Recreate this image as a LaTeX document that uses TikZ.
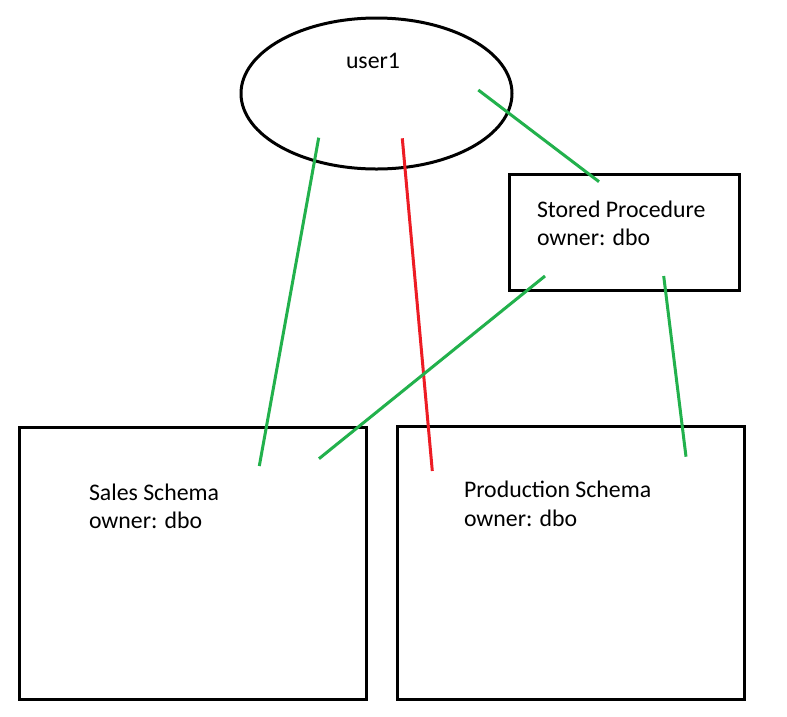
\documentclass[tikz,border=0pt]{standalone}
\usepackage{fontspec}
\setmainfont{Carlito}
\usetikzlibrary{shapes.geometric}
\definecolor{pgreen}{HTML}{22B14C}
\definecolor{pred}{HTML}{ED1C24}
\begin{document}
\begin{tikzpicture}[x=1pt,y=-1pt,
  shapeline/.style={draw=black,line width=3pt},
  boxshape/.style={shapeline,rectangle,inner sep=0pt,outer sep=0pt},
  lbl/.style={anchor=base west,inner sep=0pt,outer sep=0pt,font=\fontsize{23.8}{29}\selectfont},
  gline/.style={draw=pgreen,line width=3pt},
  rline/.style={draw=pred,line width=3pt}]
\useasboundingbox[fill=white] (0,0) rectangle (787,716);
% shapes
\node[shapeline,ellipse,inner sep=0pt,outer sep=0pt,minimum width=271pt,minimum height=151pt] (user) at (376.5,93.5) {};
\node[boxshape,minimum width=230pt,minimum height=116pt] (sp) at (624,232) {};
\node[boxshape,minimum width=346.5pt,minimum height=272.5pt] (sales) at (192.75,563.25) {};
\node[boxshape,minimum width=347pt,minimum height=273pt] (prod) at (571.2,562.5) {};
% texts
\node[lbl] (userT) at (346,68) {user1};
\node[lbl] (spT1) at (537,217) {Stored Procedure};
\node[lbl] (spT2) at (537,245) {owner: dbo};
\node[lbl] (salesT1) at (89,500) {Sales Schema};
\node[lbl] (salesT2) at (89,528) {owner: dbo};
\node[lbl] (prodT1) at (464,497) {Production Schema};
\node[lbl] (prodT2) at (464,526) {owner: dbo};
% connector end points
\coordinate (g1a) at (318.7,137.7);
\coordinate (g1b) at (259.3,466);
\coordinate (ra) at (402.3,138.3);
\coordinate (rb) at (432.3,471);
\coordinate (g2a) at (478.3,90);
\coordinate (g2b) at (599,181.7);
\coordinate (g3a) at (545,276);
\coordinate (g3b) at (319,458.7);
\coordinate (g4a) at (663.7,276);
\coordinate (g4b) at (686,456.7);
% connectors
\draw[gline] (g1a) -- (g1b);
\draw[rline] (ra) -- (rb);
\draw[gline] (g2a) -- (g2b);
\draw[gline] (g3a) -- (g3b);
\draw[gline] (g4a) -- (g4b);
\end{tikzpicture}
\end{document}
